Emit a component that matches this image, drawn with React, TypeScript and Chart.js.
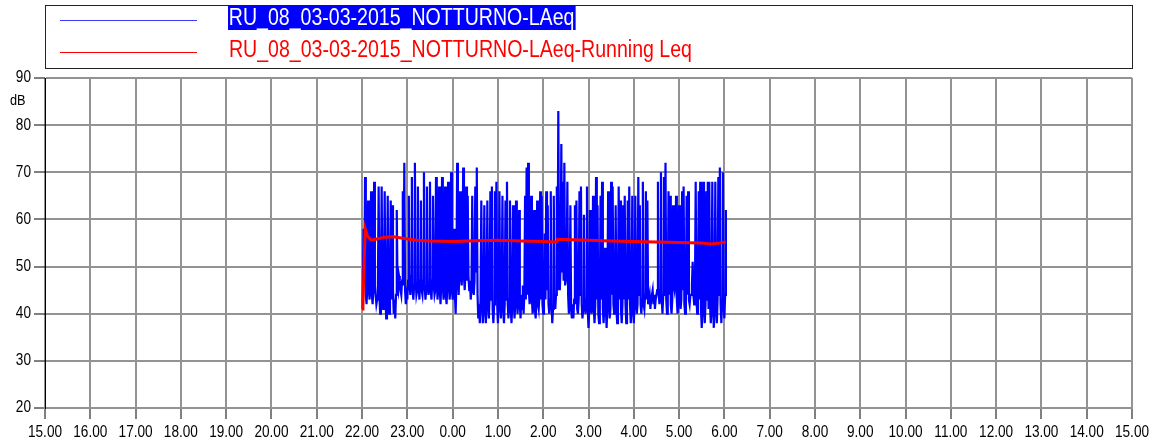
import React, { useEffect, useRef } from "react";
import { Chart, registerables } from "chart.js";

Chart.register(...registerables);

// ---- Data ----
const seriesBlueName = "RU_08_03-03-2015_NOTTURNO-LAeq";
const seriesRedName = "RU_08_03-03-2015_NOTTURNO-LAeq-Running Leq";
const yUnit = "dB";

// x axis: hours, 15 = 15.00 of day 1, 39 = 15.00 of day 2
const xMin = 15;
const xMax = 39;
const xStep = 1;
const yMin = 20;
const yMax = 90;
const yStep = 10;

// LAeq samples, one every minute from 22.00
const blueStartHour = 22;
const blueStepMinutes = 1;
const blueValues = [
  41, 45, 58, 47, 69, 44, 42, 46, 64, 45, 43, 47, 66, 44, 42, 45, 68, 46, 44, 42,
  43, 46, 67, 44, 40, 45, 67, 43, 41, 46, 66, 44, 39, 43, 65, 45, 40, 44, 64, 43,
  63, 45, 40, 43, 39, 44, 62, 46, 45, 48, 47, 45, 44, 47, 66, 46, 72, 45, 42, 44,
  43, 47, 65, 46, 44, 48, 69, 45, 43, 46, 72, 47, 44, 45, 67, 46, 43, 47, 64, 45,
  44, 47, 70, 46, 43, 45, 67, 47, 44, 46, 68, 45, 43, 47, 65, 46, 44, 45, 69, 47,
  43, 46, 67, 45, 42, 47, 69, 46, 43, 45, 67, 44, 42, 46, 68, 47, 43, 45, 70, 46,
  43, 45, 58, 44, 40, 47, 72, 48, 44, 49, 66, 48, 46, 50, 71, 48, 45, 49, 67, 47,
  65, 48, 45, 47, 43, 46, 65, 45, 44, 47, 67, 49, 71, 44, 39, 42, 38, 43, 64, 42,
  38, 42, 63, 41, 38, 43, 64, 42, 39, 44, 66, 43, 67, 41, 38, 42, 66, 43, 68, 42,
  38, 43, 66, 42, 39, 44, 65, 41, 38, 42, 64, 43, 68, 42, 39, 43, 64, 41, 38, 42,
  63, 43, 39, 42, 64, 44, 40, 43, 62, 42, 39, 44, 41, 46, 40, 44, 65, 43, 71, 44,
  72, 45, 42, 44, 65, 43, 40, 42, 62, 41, 39, 43, 64, 42, 41, 44, 66, 43, 65, 42,
  40, 44, 57, 43, 66, 45, 63, 42, 40, 43, 66, 42, 38, 41, 65, 43, 41, 44, 67, 45,
  83, 48, 45, 50, 76, 49, 68, 47, 72, 46, 46, 48, 68, 44, 40, 42, 63, 41, 39, 42,
  39, 43, 63, 42, 64, 41, 40, 43, 66, 44, 67, 42, 39, 41, 61, 42, 40, 43, 67, 41,
  37, 41, 62, 43, 40, 42, 65, 41, 38, 42, 69, 43, 63, 40, 38, 42, 65, 43, 68, 41,
  38, 42, 54, 41, 37, 42, 66, 43, 39, 41, 68, 44, 67, 42, 40, 43, 63, 41, 38, 42,
  67, 43, 64, 41, 38, 42, 63, 43, 65, 42, 38, 41, 64, 43, 67, 42, 38, 41, 65, 42,
  38, 42, 65, 43, 40, 42, 69, 44, 63, 42, 40, 43, 68, 42, 41, 44, 66, 43, 64, 42,
  42, 44, 41, 43, 43, 45, 42, 44, 41, 43, 44, 45, 68, 44, 42, 45, 70, 43, 40, 44,
  69, 44, 72, 43, 40, 42, 66, 44, 65, 42, 40, 43, 63, 46, 45, 47, 65, 43, 40, 42,
  63, 44, 41, 43, 66, 45, 67, 42, 40, 43, 65, 44, 66, 43, 42, 44, 44, 46, 51, 44,
  42, 44, 68, 43, 40, 42, 66, 43, 68, 41, 37, 41, 68, 42, 38, 42, 66, 43, 68, 41,
  68, 42, 38, 41, 68, 42, 37, 41, 68, 42, 38, 43, 69, 44, 71, 42, 38, 43, 70, 42,
  39, 44, 62,
];

// Running Leq
const redTimes = [
  22.0, 22.02, 22.04, 22.07, 22.12, 22.2, 22.3, 22.5, 22.7, 22.9, 23.2, 23.5,
  24.0, 24.5, 25.0, 25.5, 26.0, 26.3, 26.32, 27.0, 27.5, 28.0, 28.5, 29.0,
  29.5, 29.7, 29.9, 30.03,
];
const redValues = [
  41, 42, 49, 58, 56.5, 55.6, 55.8, 56.2, 56.3, 56.0, 55.6, 55.4,
  55.3, 55.5, 55.6, 55.4, 55.3, 55.2, 55.8, 55.6, 55.4, 55.3, 55.2, 55.1,
  55.0, 54.8, 55.0, 55.2,
];

const FONT = "'Liberation Sans', Arial, sans-serif";
const NARROW = 0.85;

const tickLabelPlugin = {
  id: "narrowTickLabels",
  afterDraw(chart: any) {
    const ctx = chart.ctx as CanvasRenderingContext2D;
    const xs = chart.scales.x;
    const ys = chart.scales.y;
    ctx.save();
    ctx.fillStyle = "#000";
    ctx.font = `16px ${FONT}`;
    ctx.textBaseline = "middle";
    ctx.textAlign = "center";
    for (let v = xMin; v <= xMax; v += xStep) {
      const px = xs.getPixelForValue(v);
      const label = (v % 24).toFixed(2);
      ctx.save();
      ctx.translate(px, 433);
      ctx.scale(NARROW, 1);
      ctx.fillText(label, 0, 0);
      ctx.restore();
    }
    ctx.textAlign = "right";
    for (let v = yMin; v <= yMax; v += yStep) {
      const py = ys.getPixelForValue(v);
      ctx.save();
      ctx.translate(31, py);
      ctx.scale(NARROW, 1);
      ctx.fillText(String(v), 0, 0);
      ctx.restore();
    }
    ctx.textAlign = "left";
    ctx.font = `15px ${FONT}`;
    ctx.save();
    ctx.translate(10, 101);
    ctx.scale(NARROW, 1);
    ctx.fillText(yUnit, 0, 0);
    ctx.restore();
    ctx.restore();
  },
};

export default function App() {
  const canvasRef = useRef<HTMLCanvasElement | null>(null);

  useEffect(() => {
    const canvas = canvasRef.current;
    if (!canvas) return;
    const blueData = blueValues.map((v, i) => ({
      x: blueStartHour + (i * blueStepMinutes) / 60,
      y: v,
    }));
    const redData = redTimes.map((t, i) => ({ x: t, y: redValues[i] }));

    const chart = new Chart(canvas, {
      type: "line",
      data: {
        datasets: [
          {
            label: seriesRedName,
            data: redData,
            borderColor: "#ff0000",
            borderWidth: 3,
            pointRadius: 0,
            tension: 0,
            fill: false,
          },
          {
            label: seriesBlueName,
            data: blueData,
            borderColor: "#0000ff",
            borderWidth: 2.2,
            pointRadius: 0,
            tension: 0,
            fill: false,
          },
        ],
      },
      options: {
        animation: false,
        responsive: false,
        devicePixelRatio: 1,
        parsing: false as any,
        normalized: true,
        layout: { padding: { top: 78, right: 18, left: 0, bottom: 0 } },
        plugins: {
          legend: { display: false },
          tooltip: { enabled: false },
          title: { display: false },
        },
        scales: {
          x: {
            type: "linear",
            min: xMin,
            max: xMax,
            afterFit: (scale: any) => {
              scale.height = 36;
            },
            ticks: { display: false, stepSize: xStep, autoSkip: false },
            grid: {
              color: "#939393",
              lineWidth: 2,
              tickColor: "#000",
              tickWidth: 1,
              tickLength: 11,
            },
            border: { color: "#939393", width: 2 },
          },
          y: {
            type: "linear",
            min: yMin,
            max: yMax,
            afterFit: (scale: any) => {
              scale.width = 45;
            },
            ticks: { display: false, stepSize: yStep },
            grid: {
              color: "#939393",
              lineWidth: 2,
              tickColor: "#000",
              tickWidth: 1,
              tickLength: 11,
            },
            border: { color: "#000", width: 1 },
          },
        },
      },
      plugins: [tickLabelPlugin],
    });
    return () => chart.destroy();
  }, []);

  const textStyle: React.CSSProperties = {
    position: "absolute",
    height: 25,
    lineHeight: "25px",
    fontFamily: FONT,
    fontSize: 23,
    whiteSpace: "nowrap",
    transform: `scaleX(${NARROW})`,
    transformOrigin: "0 0",
  };

  return (
    <div style={{ position: "fixed", left: 0, top: 0, width: 1150, height: 444, background: "#fff" }}>
      <canvas ref={canvasRef} width={1150} height={444} style={{ position: "absolute", left: 0, top: 0 }} />
      <div
        style={{
          position: "absolute",
          left: 45,
          top: 5,
          width: 1088,
          height: 64,
          boxSizing: "border-box",
          border: "1px solid #222",
        }}
      />
      <div style={{ position: "absolute", left: 60, top: 20, width: 137, height: 1, background: "#3b3bff" }} />
      <div style={{ position: "absolute", left: 60, top: 52, width: 137, height: 1, background: "#ff0000" }} />
      <div style={{ ...textStyle, left: 228, top: 5, padding: "0 1px", background: "#0000ff", color: "#fff" }}>
        {seriesBlueName}
      </div>
      <div style={{ ...textStyle, left: 229, top: 37, color: "#ff0000" }}>{seriesRedName}</div>
    </div>
  );
}
